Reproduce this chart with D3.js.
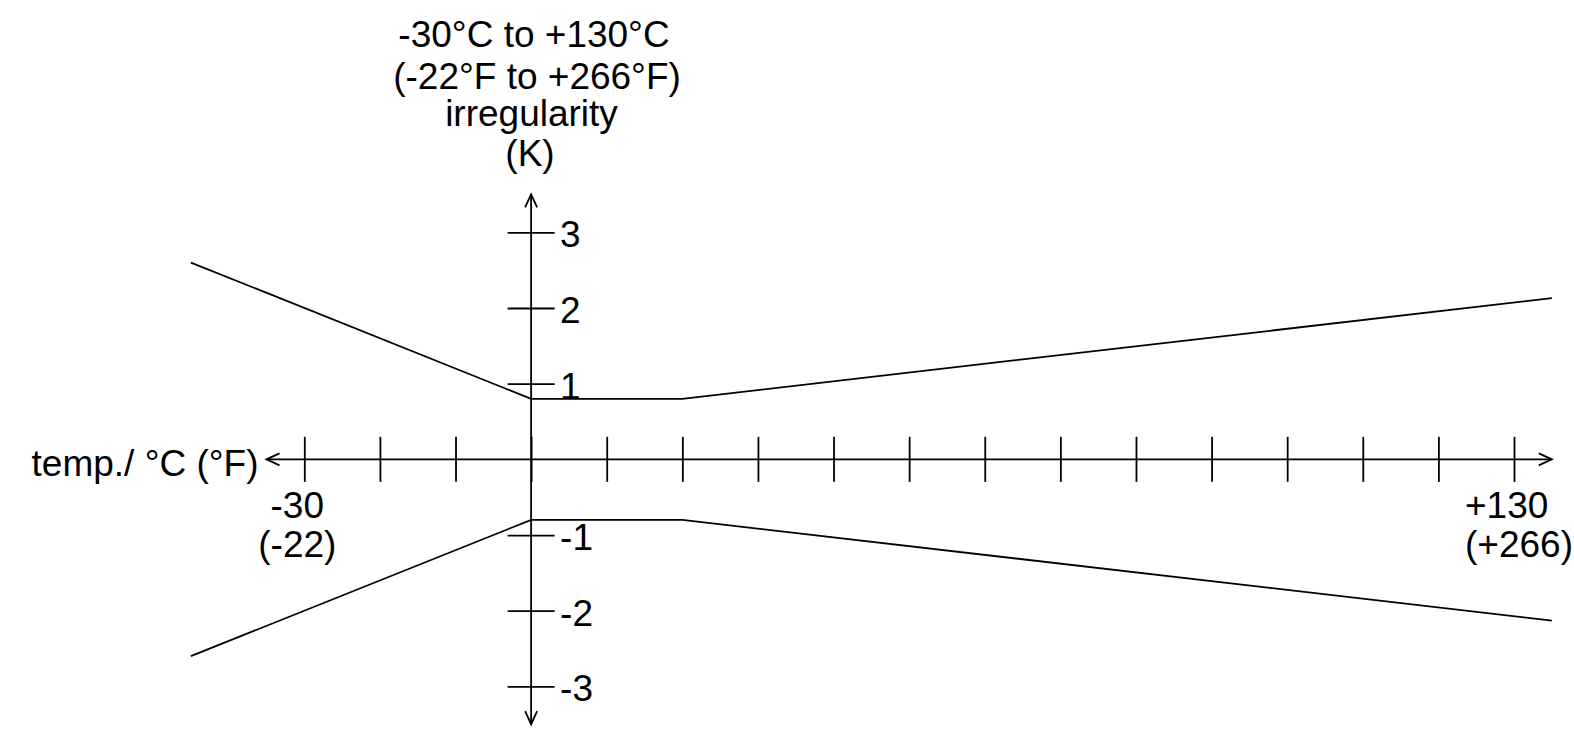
<!DOCTYPE html>
<html>
<head>
<meta charset="utf-8">
<script src="https://cdn.jsdelivr.net/npm/d3@7"></script>
<style>
  html, body { margin: 0; padding: 0; background: #fff; }
  svg { display: block; }
  text { font-family: "Liberation Sans", Arial, sans-serif; font-size: 37px; fill: #000; }
</style>
</head>
<body>
<svg id="chart" width="1574" height="732"></svg>
<script>
// ---- data ----
const temps = [-45, 0, 20, 135];              // °C break points
const upperLimit = [2.6, 0.8, 0.8, 2.13];      // K
const lowerLimit = [-2.6, -0.8, -0.8, -2.13];  // K
const xTickValues = [-30, -20, -10, 0, 10, 20, 30, 40, 50, 60, 70, 80, 90, 100, 110, 120, 130];
const yTickValues = [-3, -2, -1, 1, 2, 3];
const xEndLabels = [
  { v: -30, lines: ["-30", "(-22)"], anchor: "middle", dx: -7 },
  { v: 130, lines: ["+130", "(+266)"], anchor: "start", dx: -49 }
];
const yTickLabels = ["-3", "-2", "-1", "1", "2", "3"];
const titleLines = ["-30°C to +130°C", "(-22°F to +266°F)", "irregularity", "(K)"];
const xAxisTitle = "temp./ °C (°F)";
const xAxisExtent = [-35, 135];
const yAxisExtent = [-3.5, 3.5];

// ---- scales ----
const x = d3.scaleLinear().domain([-30, 130]).range([304.3, 1514]);
const y = d3.scaleLinear().domain([-3, 3]).range([686.4, 232.3]);

const svg = d3.select("#chart");
const g = svg.append("g");
const sw = 1.8;

// axis lines
g.append("line")
  .attr("x1", x(xAxisExtent[0])).attr("x2", x(xAxisExtent[1]))
  .attr("y1", y(0)).attr("y2", y(0))
  .attr("stroke", "#000").attr("stroke-width", sw);
g.append("line")
  .attr("x1", x(0)).attr("x2", x(0))
  .attr("y1", y(yAxisExtent[1])).attr("y2", y(yAxisExtent[0]))
  .attr("stroke", "#000").attr("stroke-width", sw);

// arrowheads (open chevrons)
function chevron(tipX, tipY, dx, dy) {
  const len = 13, half = 6;
  const px = -dy, py = dx;
  const p = d3.path();
  p.moveTo(tipX + dx * len + px * half, tipY + dy * len + py * half);
  p.lineTo(tipX, tipY);
  p.lineTo(tipX + dx * len - px * half, tipY + dy * len - py * half);
  g.append("path").attr("d", p.toString())
    .attr("fill", "none").attr("stroke", "#000").attr("stroke-width", sw);
}
chevron(x(xAxisExtent[0]), y(0), 1, 0);
chevron(x(xAxisExtent[1]), y(0), -1, 0);
chevron(x(0), y(yAxisExtent[1]), 0, 1);
chevron(x(0), y(yAxisExtent[0]), 0, -1);

// x ticks via d3 axis
const xTickLen = 45;
const xAxis = d3.axisBottom(x).tickValues(xTickValues).tickSize(xTickLen).tickFormat("");
const xa = g.append("g").attr("transform", `translate(0,${y(0) - xTickLen / 2})`).call(xAxis);
xa.select(".domain").remove();
xa.selectAll(".tick line").attr("stroke", "#000").attr("stroke-width", sw);

// y ticks via d3 axis
const yTickLen = 47;
const yAxis = d3.axisRight(y).tickValues(yTickValues).tickSize(yTickLen).tickFormat("");
const ya = g.append("g").attr("transform", `translate(${x(0) - yTickLen / 2},0)`).call(yAxis);
ya.select(".domain").remove();
ya.selectAll(".tick line").attr("stroke", "#000").attr("stroke-width", sw);

// y tick labels
yTickValues.forEach((v, i) => {
  g.append("text")
    .attr("x", x(0) + 29)
    .attr("y", y(v) + 15)
    .attr("text-anchor", "start")
    .text(yTickLabels[i]);
});

// x end labels
xEndLabels.forEach(d => {
  d.lines.forEach((s, i) => {
    g.append("text")
      .attr("x", x(d.v) + d.dx)
      .attr("y", 518 + i * 39)
      .attr("text-anchor", d.anchor)
      .text(s);
  });
});

// x axis title
g.append("text")
  .attr("x", x(xAxisExtent[0]) - 8)
  .attr("y", 476)
  .attr("text-anchor", "end")
  .text(xAxisTitle);

// y axis title block
const titleY = [47, 88.5, 126, 166];
const titleX = [534, 537, 531.5, 530];
titleLines.forEach((s, i) => {
  g.append("text")
    .attr("x", titleX[i])
    .attr("y", titleY[i])
    .attr("text-anchor", "middle")
    .text(s);
});

// data lines
const line = d3.line().x(d => x(d[0])).y(d => y(d[1]));
[upperLimit, lowerLimit].forEach(series => {
  g.append("path")
    .datum(temps.map((t, i) => [t, series[i]]))
    .attr("d", line)
    .attr("fill", "none")
    .attr("stroke", "#000")
    .attr("stroke-width", sw);
});
</script>
</body>
</html>
